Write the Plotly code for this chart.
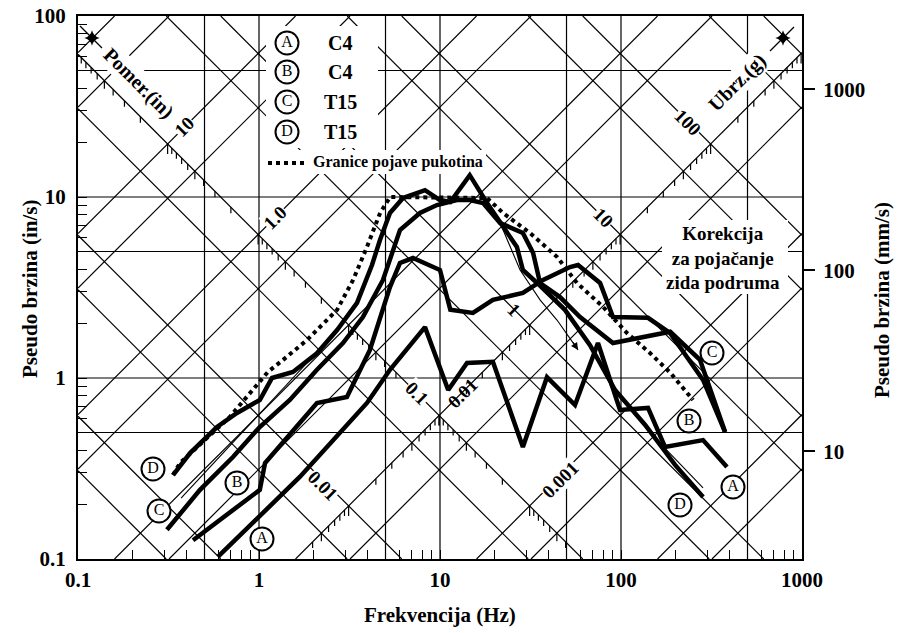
import math
import plotly.graph_objects as go

# ---------------- data (frequency in Hz, pseudo velocity in in/s) ----------------
freq_A = [0.594, 1.68, 3.95, 5.29, 8.26, 11.1, 14.1, 19.6, 28.7, 39.0, 55.7, 74.6, 98.7, 141, 175, 284, 385]
vel_A = [0.103, 0.284, 0.728, 1.11, 1.91, 0.858, 1.21, 1.23, 0.416, 1.01, 0.709, 1.56, 0.666, 0.683, 0.416, 0.454, 0.322]

freq_B = [0.432, 1.01, 1.08, 2.09, 3.06, 4.10, 5.29, 6.01, 7.09, 10.0, 11.4, 15.2, 19.6, 28.7, 37.1,
          52.3, 57.9, 76.6, 90.3, 141, 187, 284, 376]
vel_B = [0.127, 0.241, 0.339, 0.728, 0.785, 1.43, 3.18, 4.32, 4.60, 3.95, 2.38, 2.29, 2.70, 2.95, 3.48,
         4.10, 4.21, 3.35, 2.17, 2.15, 1.77, 0.975, 0.503]

freq_C = [0.310, 0.472, 0.718, 1.01, 1.48, 2.09, 2.91, 3.75, 4.84, 6.01, 7.75, 9.62, 12.4, 14.6, 17.3,
          21.5, 28.7, 32.7, 35.7, 46.0, 59.4, 90.3, 187, 273, 376]
vel_C = [0.145, 0.241, 0.366, 0.536, 0.756, 1.11, 1.56, 2.17, 3.48, 6.57, 8.16, 9.03, 9.62, 9.62, 9.27,
         7.18, 6.33, 4.90, 3.35, 2.80, 2.17, 1.56, 1.80, 1.26, 0.503]

freq_D = [0.335, 0.416, 0.586, 0.756, 1.01, 1.11, 1.18, 1.54, 2.09, 2.70, 3.48, 4.21, 4.66, 5.29, 6.25,
          8.26, 10.0, 11.4, 14.6, 18.2, 22.3, 26.6, 28.7, 34.4, 49.0, 67.4, 92.7, 136, 199, 284]
vel_D = [0.291, 0.385, 0.536, 0.641, 0.756, 0.892, 1.00, 1.08, 1.37, 1.84, 2.60, 4.21, 5.79, 8.16, 9.87,
         10.9, 9.62, 9.38, 13.2, 9.27, 6.83, 5.29, 3.95, 3.35, 2.38, 1.52, 0.858, 0.550, 0.331, 0.220]

# cracking threshold (dotted)
freq_lim = [0.335, 0.366, 0.69, 0.86, 1.12, 1.36, 1.84, 2.70, 3.31, 3.95, 4.67, 5.30, 18.2, 22.3, 31.4,
            44.3, 57.1, 79.6, 108, 145, 187, 250]
vel_lim = [0.291, 0.339, 0.61, 0.785, 1.08, 1.26, 1.62, 2.38, 3.48, 5.30, 8.17, 10.0, 9.87, 8.16, 6.33,
           4.67, 3.35, 2.47, 1.77, 1.37, 1.07, 0.756]

# thin (uncorrected) traces
freq_thin1 = [0.371, 2.47]
vel_thin1 = [0.217, 1.66]
freq_corr = [16.6, 21.5, 27.7, 35.7, 44.3, 57.9]
vel_corr = [10.5, 7.18, 3.95, 2.70, 2.09, 1.43]
freq_thin2 = [86.9, 145, 284]
vel_thin2 = [0.915, 0.497, 0.247]

# grid and scale values
grid_f = [0.5, 1, 5, 10, 50, 100, 500]
grid_v = [0.5, 1, 5, 10, 50]
diag_mult = [1, 5]
disp_label_vals = [10, 1.0, 0.01, 0.001]
disp_label_txt = ["10", "1.0", "0.01", "0.001"]
acc_label_vals = [100, 10, 1, 0.1, 0.01]
acc_label_txt = ["100", "10", "1", "0.1", "0.01"]
legend_names = ["C4", "C4", "T15", "T15"]
legend_letters = ["A", "B", "C", "D"]

# ---------------- geometry helpers ----------------
G_IN = 386.09          # in/s^2
TWO_PI = 2 * math.pi
X0, X1 = -1, 3
Y0, Y1 = -1, 2
PX_L, PX_T, PX_W, PX_H = 78, 16, 724, 543
DEC = PX_W / (X1 - X0)
A_AXIS = 0.1           # acceleration line carrying displacement scale
D_AXIS = 0.01          # displacement line carrying acceleration scale
FONT = "Liberation Serif"


def px2data(px, py):
    return 10 ** (X0 + (px - PX_L) / DEC), 10 ** (Y0 + (PX_T + PX_H - py) / DEC)


def pxp(px, py):
    return (px - PX_L) / PX_W, (PX_T + PX_H - py) / PX_H


def fnt(size):
    return dict(family=FONT, size=size, color="black", weight="bold")


shapes = []
annotations = []


def line_shape(x0, y0, x1, y1, w=1.2):
    shapes.append(dict(type="line", xref="x", yref="y", x0=x0, y0=y0, x1=x1, y1=y1,
                       line=dict(color="black", width=w), layer="below"))


def white_box(p0, p1):
    xa, ya = px2data(*p0)
    xb, yb = px2data(*p1)
    shapes.append(dict(type="rect", xref="x", yref="y", x0=xa, y0=yb, x1=xb, y1=ya,
                       fillcolor="white", line=dict(width=0), layer="below"))


# vertical / horizontal grid
for f in grid_f:
    line_shape(f, 10 ** Y0, f, 10 ** Y1)
for v in grid_v:
    line_shape(10 ** X0, v, 10 ** X1, v)

# constant displacement lines (slope +1) and constant acceleration lines (slope -1)
for k in range(-6, 5):
    for m in diag_mult:
        D = m * 10 ** k
        c = math.log10(D) + math.log10(TWO_PI)
        lo, hi = max(X0, Y0 - c), min(X1, Y1 - c)
        if hi - lo > 0.01:
            line_shape(10 ** lo, 10 ** (lo + c), 10 ** hi, 10 ** (hi + c))
        A = m * 10 ** k
        c2 = math.log10(A) + math.log10(G_IN / TWO_PI)
        lo, hi = max(X0, c2 - Y1), min(X1, c2 - Y0)
        if hi - lo > 0.01:
            line_shape(10 ** lo, 10 ** (c2 - lo), 10 ** hi, 10 ** (c2 - hi))


def disp_point(D):
    f = math.sqrt(A_AXIS * G_IN / (TWO_PI ** 2 * D))
    return f, TWO_PI * f * D


def acc_point(A):
    f = math.sqrt(A * G_IN / (TWO_PI ** 2 * D_AXIS))
    return f, TWO_PI * f * D_AXIS


def scale_ticks(point_fn):
    for k in range(-5, 4):
        for n in range(1, 10):
            val = n * 10 ** k
            f, v = point_fn(val)
            L = 10 if n == 1 else (8 if n == 5 else 6)
            lf, lv = math.log10(f), math.log10(v)
            if X0 < lf < X1 and Y0 + L / DEC < lv < Y1:
                line_shape(f, v, f, v * 10 ** (-L / DEC), w=1.2)


scale_ticks(disp_point)
scale_ticks(acc_point)

# white areas behind text blocks (interrupt the grid)
white_box((266, 26), (378, 148))
white_box((262, 150), (486, 174))
white_box((662, 220), (788, 294))

# ---------------- traces ----------------
fig = go.Figure()


def add_line(fx, vy, width, dash="solid"):
    fig.add_trace(go.Scatter(x=fx, y=vy, mode="lines", line=dict(color="black", width=width, dash=dash),
                             showlegend=False, hoverinfo="skip"))


add_line(freq_thin1, vel_thin1, 1.1)
add_line(freq_corr, vel_corr, 1.1)
add_line(freq_thin2, vel_thin2, 1.1)
add_line(freq_lim, vel_lim, 4, "dot")
add_line(freq_A, vel_A, 4.5)
add_line(freq_B, vel_B, 4.5)
add_line(freq_C, vel_C, 4.5)
add_line(freq_D, vel_D, 4.5)

# legend dotted sample
s0 = px2data(268, 163)
s1 = px2data(305, 163)
add_line([s0[0], s1[0]], [s0[1], s1[1]], 4, "dot")

# circled labels
label_px = [(287, 43), (287, 72), (287, 102), (287, 132),
            (153, 469), (159, 511), (237, 483), (262, 539),
            (712, 353), (689, 421), (733, 487), (680, 505)]
label_txt = ["A", "B", "C", "D", "D", "C", "B", "A", "C", "B", "A", "D"]
lx, ly = zip(*[px2data(*p) for p in label_px])
fig.add_trace(go.Scatter(x=list(lx), y=list(ly), mode="markers+text", text=label_txt,
                         textposition="middle center", textfont=dict(family=FONT, size=16, color="black"),
                         marker=dict(symbol="circle", size=23, color="white", line=dict(color="black", width=2)),
                         showlegend=False, hoverinfo="skip"))

# scale end stars
for (a, b) in [((80, 26), (102, 48)), ((770, 51), (794, 27))]:
    p, q = px2data(*a), px2data(*b)
    add_line([p[0], q[0]], [p[1], q[1]], 1.2)
sx, sy = zip(*[px2data(92, 38), px2data(783, 38)])
fig.add_trace(go.Scatter(x=list(sx), y=list(sy), mode="markers",
                         marker=dict(symbol="star-diamond", size=11, color="black"),
                         showlegend=False, hoverinfo="skip"))

# invisible helper trace for secondary (mm/s) axis
fig.add_trace(go.Scatter(x=[1], y=[100], yaxis="y2", mode="markers", marker=dict(opacity=0),
                         showlegend=False, hoverinfo="skip"))

# correction arrow
af, av = freq_corr[-1], vel_corr[-1]
annotations.append(dict(x=math.log10(af), y=math.log10(av), xref="x", yref="y", text="", showarrow=True,
                        ax=-6, ay=-9, arrowhead=2, arrowsize=1.2, arrowwidth=1.2, arrowcolor="black"))


def ann_px(text, px, py, size, angle=0, bg=None, xanchor="center"):
    x, y = pxp(px, py)
    annotations.append(dict(text=text, xref="paper", yref="paper", x=x, y=y, showarrow=False,
                            textangle=angle, font=fnt(size), xanchor=xanchor, yanchor="middle",
                            bgcolor=bg if bg else "rgba(0,0,0,0)", borderpad=1))


for name, py in zip(legend_names, [43, 72, 102, 132]):
    ann_px(name, 340, py, 20)
ann_px("Granice pojave pukotina", 311, 162, 16, xanchor="left")
ann_px("Korekcija<br>za pojačanje<br>zida podruma", 723, 258, 19)
ann_px("Pomer.(in)", 139, 83, 20, angle=45, bg="white")
ann_px("Ubrz.(g)", 737, 82, 20, angle=-45, bg="white")
ann_px("Frekvencija (Hz)", 440, 615, 21)
ann_px("Pseudo brzina (in/s)", 30, 289, 21, angle=-90)
ann_px("Pseudo brzina (mm/s)", 882, 300, 21, angle=-90)

disp_offsets = [(17, -17), (17, -17), (23, -22), (31, -26)]
disp_bg = [True, True, False, True]
for val, txt, (dx, dy), bg in zip(disp_label_vals, disp_label_txt, disp_offsets, disp_bg):
    f, v = disp_point(val)
    annotations.append(dict(text=txt, xref="x", yref="y", x=math.log10(f), y=math.log10(v),
                            xshift=dx, yshift=-dy, showarrow=False, textangle=-45, font=fnt(19),
                            bgcolor="white" if bg else "rgba(0,0,0,0)", borderpad=0))

acc_offsets = [(-23, -21), (-17, -17), (-16, -15), (-22, -22), (-26, -20)]
acc_bg = [True, True, False, True, True]
for val, txt, (dx, dy), bg in zip(acc_label_vals, acc_label_txt, acc_offsets, acc_bg):
    f, v = acc_point(val)
    annotations.append(dict(text=txt, xref="x", yref="y", x=math.log10(f), y=math.log10(v),
                            xshift=dx, yshift=-dy, showarrow=False, textangle=45, font=fnt(19),
                            bgcolor="white" if bg else "rgba(0,0,0,0)", borderpad=0))

tick_minor = dict(ticks="inside", ticklen=9, tickwidth=1.4, tickcolor="black", dtick="D1", showgrid=False)

fig.update_layout(
    width=900, height=633, autosize=False,
    margin=dict(l=PX_L, r=900 - PX_L - PX_W, t=PX_T, b=633 - PX_T - PX_H),
    paper_bgcolor="white", plot_bgcolor="white",
    font=dict(family=FONT, color="black"),
    showlegend=False,
    xaxis=dict(type="log", range=[X0, X1], dtick=1, showgrid=False, zeroline=False, automargin=False,
               showline=True, linecolor="black", linewidth=2, mirror=True,
               ticks="inside", ticklen=9, tickwidth=1.4, tickcolor="black",
               minor=tick_minor, tickfont=fnt(21), ticklabelstandoff=1),
    yaxis=dict(type="log", range=[Y0, Y1], dtick=1, showgrid=False, zeroline=False, automargin=False,
               showline=True, linecolor="black", linewidth=2, mirror=True,
               ticks="inside", ticklen=9, tickwidth=1.4, tickcolor="black",
               minor=tick_minor, tickfont=fnt(21), ticklabelstandoff=6),
    yaxis2=dict(type="log", overlaying="y", side="right", anchor="x", automargin=False,
                range=[math.log10(10 ** Y0 * 25.4), math.log10(10 ** Y1 * 25.4)],
                tickvals=[10, 100, 1000], ticktext=["10", "100", "1000"],
                ticks="outside", ticklen=12, tickwidth=2, tickcolor="black",
                showgrid=False, zeroline=False, showline=False, tickfont=fnt(21), ticklabelstandoff=4),
    shapes=shapes,
    annotations=annotations,
)

fig.write_html("out.html", config={"displayModeBar": False},
               post_script="document.body.style.margin='0px';document.body.style.overflow='hidden';")
